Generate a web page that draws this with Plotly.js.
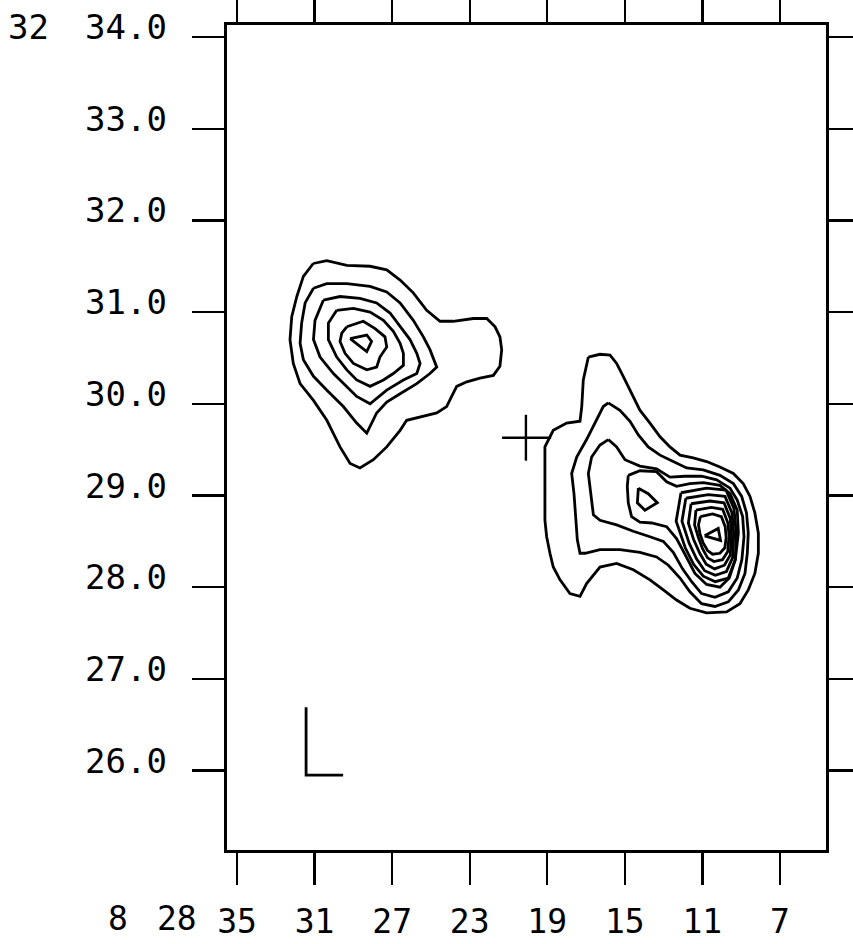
<!DOCTYPE html>
<html><head><meta charset="utf-8">
<script src="https://cdn.plot.ly/plotly-3.0.1.min.js"></script>
<style>html,body{margin:0;padding:0;background:#fff;}</style>
</head><body><div id="chart" style="width:853px;height:944px;"></div>
<script>
// ---- Axis tick data (RA seconds of 8h28m, Dec arcmin of +32 deg) ----
const raTickVals = [35, 31, 27, 23, 19, 15, 11, 7];
const raTickText = ["35", "31", "27", "23", "19", "15", "11", "7"];
const decTickVals = [34, 33, 32, 31, 30, 29, 28, 27, 26];
const decTickText = ["34.0", "33.0", "32.0", "31.0", "30.0", "29.0", "28.0", "27.0", "26.0"];
const raHour = "8";
const raMin = "28";
const decDeg = "32";

// ---- Western source contours [RA s, Dec '] ----
const westC1 = [[31.07,31.53],[30.37,31.56],[29.34,31.51],[28.14,31.50],[27.28,31.46],[26.59,31.35],[25.91,31.21],[25.22,31.02],[24.53,30.90],[23.85,30.90],[22.81,30.93],[22.12,30.93],[21.69,30.84],[21.44,30.73],[21.35,30.59],[21.44,30.41],[21.78,30.31],[22.47,30.28],[23.15,30.24],[23.67,30.19],[23.93,30.08],[24.19,29.97],[24.70,29.90],[25.56,29.86],[26.25,29.82],[26.59,29.71],[27.28,29.53],[27.97,29.39],[28.66,29.30],[29.17,29.35],[29.69,29.53],[30.37,29.82],[31.07,30.04],[31.75,30.22],[32.10,30.44],[32.27,30.70],[32.18,30.95],[31.92,31.17],[31.58,31.39]];
const westC2 = [[31.06,31.26],[30.38,31.31],[29.34,31.31],[28.14,31.28],[27.28,31.22],[26.59,31.10],[25.91,30.91],[25.39,30.73],[25.05,30.59],[24.70,30.40],[25.05,30.33],[25.73,30.22],[26.59,30.11],[27.28,30.02],[27.80,29.90],[28.31,29.68],[28.83,29.79],[29.52,29.97],[30.38,30.15],[31.06,30.30],[31.58,30.48],[31.75,30.66],[31.67,30.88],[31.49,31.10]];
const westC3 = [[30.55,31.13],[29.69,31.17],[28.66,31.15],[27.80,31.10],[27.11,30.99],[26.59,30.84],[26.08,30.70],[25.73,30.55],[25.56,30.44],[25.73,30.33],[26.42,30.26],[27.28,30.15],[28.14,30.00],[28.83,30.08],[29.34,30.19],[30.03,30.33],[30.72,30.51],[31.06,30.70],[30.98,30.91]];
const westC4 = [[29.86,31.02],[29.00,31.04],[28.14,31.00],[27.45,30.91],[26.94,30.79],[26.59,30.66],[26.42,30.55],[26.42,30.42],[26.94,30.33],[27.45,30.26],[28.14,30.19],[28.83,30.26],[29.34,30.37],[29.86,30.51],[30.29,30.70],[30.29,30.88]];
const westC5 = [[29.34,30.84],[28.49,30.90],[27.88,30.82],[27.37,30.73],[27.28,30.62],[27.63,30.51],[27.80,30.40],[28.31,30.37],[29.00,30.44],[29.43,30.55],[29.69,30.68],[29.60,30.77]];
const westC6 = [[29.17,30.71],[28.31,30.75],[28.06,30.68],[28.31,30.57]];

// ---- Eastern source contours [RA s, Dec '] ----
const eastC1 = [[16.88,30.51],[16.28,30.54],[15.76,30.53],[15.42,30.44],[15.08,30.30],[14.65,30.11],[14.22,29.93],[13.70,29.79],[13.18,29.64],[12.67,29.53],[12.15,29.44],[11.47,29.41],[10.78,29.37],[10.09,29.31],[9.40,29.24],[8.89,29.13],[8.54,28.99],[8.29,28.81],[8.11,28.59],[8.11,28.37],[8.29,28.15],[8.63,27.97],[9.06,27.82],[9.75,27.73],[10.78,27.72],[11.64,27.77],[12.33,27.86],[13.01,27.97],[13.70,28.08],[14.56,28.19],[15.42,28.26],[16.28,28.22],[16.97,28.04],[17.31,27.90],[17.83,27.93],[18.34,28.08],[18.69,28.22],[18.86,28.37],[19.03,28.55],[19.12,28.73],[19.12,29.06],[19.15,29.31],[19.12,29.53],[18.69,29.71],[18.00,29.79],[17.31,29.81],[17.22,29.97],[17.14,30.26]];
const eastC2 = [[15.85,30.01],[15.25,29.93],[14.73,29.81],[14.30,29.66],[13.79,29.53],[13.18,29.44],[12.50,29.37],[11.81,29.30],[10.95,29.28],[10.09,29.22],[9.40,29.13],[8.97,28.99],[8.72,28.81],[8.63,28.59],[8.68,28.37],[8.80,28.15],[9.14,27.97],[9.66,27.84],[10.35,27.79],[11.04,27.82],[11.64,27.95],[12.15,28.10],[12.75,28.24],[13.36,28.33],[14.22,28.38],[15.25,28.41],[16.28,28.41],[17.05,28.37],[17.31,28.37],[17.45,28.52],[17.52,28.73],[17.62,29.02],[17.74,29.24],[17.48,29.42],[16.97,29.61],[16.45,29.82],[16.11,29.97]];
const eastC3 = [[15.85,29.61],[15.42,29.53],[14.99,29.39],[14.22,29.32],[13.36,29.29],[12.67,29.20],[11.90,29.21],[11.04,29.21],[10.26,29.17],[9.57,29.08],[9.20,28.95],[8.92,28.77],[8.85,28.55],[8.96,28.30],[9.20,28.10],[9.66,27.95],[10.35,27.89],[11.04,27.93],[11.55,28.06],[12.02,28.20],[12.50,28.38],[13.01,28.50],[13.70,28.55],[14.56,28.61],[15.42,28.68],[16.28,28.73],[16.62,28.79],[16.76,29.02],[16.88,29.24],[16.71,29.42],[16.28,29.55]];
const eastC4 = [[14.82,29.22],[14.22,29.27],[13.36,29.26],[12.84,29.15],[12.33,29.10],[11.64,29.13],[10.95,29.14],[10.09,29.11],[9.57,29.02],[9.20,28.84],[9.14,28.59],[9.30,28.30],[9.61,28.10],[10.09,28.00],[10.78,28.03],[11.38,28.15],[11.90,28.36],[12.33,28.53],[12.84,28.66],[13.61,28.70],[14.22,28.71],[14.65,28.77],[14.82,28.92],[14.87,29.10]];
const eastSec = [[14.30,29.08],[13.79,29.02],[13.32,28.92],[13.96,28.84],[14.35,28.92]];
const eastM5 = [[12.10,29.03],[10.78,29.08],[9.78,29.06],[9.37,28.86],[9.25,28.59],[9.30,28.30],[9.66,28.10],[10.33,28.06],[10.95,28.12],[11.45,28.25],[11.88,28.43],[12.35,28.72]];
const eastM6 = [[11.85,28.97],[10.69,29.01],[9.83,28.99],[9.47,28.81],[9.38,28.58],[9.44,28.32],[9.76,28.17],[10.33,28.13],[10.88,28.18],[11.30,28.31],[11.68,28.48],[12.05,28.72]];
const eastM7 = [[11.58,28.91],[10.61,28.94],[9.88,28.92],[9.56,28.75],[9.50,28.57],[9.56,28.35],[9.86,28.24],[10.37,28.20],[10.80,28.25],[11.13,28.37],[11.45,28.52],[11.72,28.70]];
const eastM8 = [[11.33,28.84],[10.54,28.87],[9.95,28.85],[9.68,28.70],[9.62,28.56],[9.69,28.39],[9.96,28.30],[10.40,28.28],[10.73,28.32],[10.99,28.42],[11.20,28.54],[11.40,28.68]];
const eastM9 = [[11.10,28.77],[10.47,28.80],[10.02,28.77],[9.82,28.66],[9.77,28.54],[9.84,28.43],[10.09,28.37],[10.47,28.36],[10.73,28.40],[10.95,28.48],[11.12,28.58],[11.20,28.68]];
const eastPeak = [[10.88,28.56],[10.18,28.64],[10.06,28.51]];

// ---- Markers: optical position cross, and the corner "L" ----
const crossRA = [21.33, 18.8, null, 20.10, 20.10];
const crossDec = [29.63, 29.63, null, 29.88, 29.38];
const cornerRA = [31.44, 31.44, 29.53];
const cornerDec = [26.69, 25.95, 25.95];

const contours = [westC1, westC2, westC3, westC4, westC5, westC6,
  eastC1, eastC2, eastC3, eastC4, eastSec, eastM5, eastM6, eastM7, eastM8, eastM9, eastPeak];

const LW = 2.8;
const traces = contours.map(c => {
  const pts = c.concat([c[0]]);
  return {
    type: 'scatter', mode: 'lines',
    x: pts.map(p => p[0]), y: pts.map(p => p[1]),
    line: {color: '#000', width: LW},
    hoverinfo: 'skip', showlegend: false
  };
});
traces.push({type:'scatter', mode:'lines', x: crossRA, y: crossDec,
  line:{color:'#000', width:2.4}, hoverinfo:'skip', showlegend:false, connectgaps:false});
traces.push({type:'scatter', mode:'lines', x: cornerRA, y: cornerDec,
  line:{color:'#000', width:2.8}, hoverinfo:'skip', showlegend:false});

const FONT = 'DejaVu Sans Mono, monospace';

const annotations = decTickVals.map((v, i) => ({
  xref: 'paper', yref: 'y', x: 0, y: v,
  xanchor: 'right', yanchor: 'middle', xshift: -58, yshift: 10,
  text: decTickText[i], showarrow: false,
  font: {family: FONT, size: 34, color: '#000'}
}));
annotations.push({xref:'paper', yref:'y', x:0, y:decTickVals[0], xanchor:'right', yanchor:'middle',
  xshift:-176, yshift:10, text: decDeg, showarrow:false, font:{family:FONT, size:34, color:'#000'}});
annotations.push({xref:'paper', yref:'paper', x:0, y:0, xanchor:'center', yanchor:'middle',
  xshift:-109, yshift:-68, text: raHour, showarrow:false, font:{family:FONT, size:33, color:'#000'}});
annotations.push({xref:'paper', yref:'paper', x:0, y:0, xanchor:'center', yanchor:'middle',
  xshift:-50, yshift:-68, text: raMin, showarrow:false, font:{family:FONT, size:33, color:'#000'}});

const layout = {
  width: 853, height: 944,
  margin: {l: 227, r: 27, t: 25, b: 94, pad: 0},
  paper_bgcolor: '#fff', plot_bgcolor: '#fff',
  showlegend: false, hovermode: false,
  xaxis: {
    range: [35.52, 4.62], tickmode: 'array', tickvals: raTickVals, ticktext: raTickText,
    ticks: 'outside', ticklen: 32, tickwidth: 2.4, tickcolor: '#000',
    showline: true, linewidth: 2.8, linecolor: '#000', mirror: 'ticks',
    showgrid: false, zeroline: false,
    tickfont: {family: FONT, size: 33, color: '#000'},
    ticklabelstandoff: 9
  },
  yaxis: {
    range: [25.134, 34.131], tickmode: 'array', tickvals: decTickVals,
    showticklabels: false,
    ticks: 'outside', ticklen: 32, tickwidth: 2.4, tickcolor: '#000',
    showline: true, linewidth: 2.8, linecolor: '#000', mirror: 'ticks',
    showgrid: false, zeroline: false
  },
  annotations: annotations
};

Plotly.newPlot('chart', traces, layout, {staticPlot: true, displayModeBar: false});
</script></body></html>
